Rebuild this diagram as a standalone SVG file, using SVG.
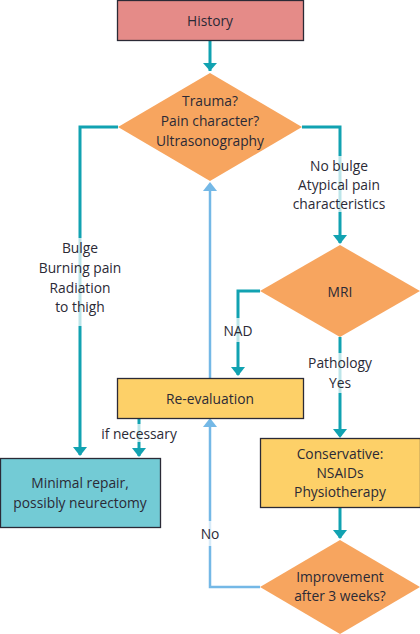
<svg xmlns="http://www.w3.org/2000/svg" width="420" height="634" viewBox="0 0 420 634">
<defs>
<style>
text{font-family:"Open Sans","Liberation Sans",sans-serif;font-size:13.8px;fill:#2b2a36;text-anchor:middle;dominant-baseline:central}
.box{stroke:#2b2a36;stroke-width:1.3}
.teal{fill:none;stroke:#11a2b1;stroke-width:3}
.lb{fill:none;stroke:#74b8e6;stroke-width:2.5}
.veil{fill:#fff;fill-opacity:0.72}
.ht{fill:#11a2b1}
.hb{fill:#74b8e6}
</style>
</defs>
<rect width="420" height="634" fill="#fff"/>
<g id="connectors">
<path class="teal" d="M210,40 V71"/>
<path class="ht" d="M203,63 L217,63 L210,71 Z"/>
<path class="teal" d="M118,127 H80 V455"/>
<path class="ht" d="M73,447 L87,447 L80,456 Z"/>
<path class="teal" d="M302,127 H340 V243"/>
<path class="ht" d="M333,235 L347,235 L340,244 Z"/>
<path class="teal" d="M260,291 H238 V375"/>
<path class="ht" d="M231,367 L245,367 L238,376 Z"/>
<path class="teal" d="M340,337 V436"/>
<path class="ht" d="M333,429 L347,429 L340,438 Z"/>
<path class="teal" d="M139,418 V456"/>
<path class="ht" d="M132,448 L146,448 L139,457 Z"/>
<path class="teal" d="M340,507 V538"/>
<path class="ht" d="M333,530 L347,530 L340,539 Z"/>
<path class="lb" d="M210,378 V188"/>
<path class="hb" d="M203,191 L217,191 L210,182 Z"/>
<path class="lb" d="M260,587 H210 V424"/>
<path class="hb" d="M203,427 L217,427 L210,418 Z"/>
<rect class="veil" x="76" y="238" width="8" height="88"/>
<rect class="veil" x="336" y="156" width="8" height="56"/>
<rect class="veil" x="234" y="318" width="8" height="24"/>
<rect class="veil" x="336" y="353" width="8" height="40"/>
<rect class="veil" x="135" y="424" width="8" height="18"/>
<rect class="veil" x="206" y="521" width="8" height="25"/>
</g>
<g id="history">
<rect class="box" x="117.5" y="0.5" width="186" height="40" fill="#e58b88"/>
<text x="210" y="20">History</text>
</g>
<g id="trauma">
<polygon points="210,73 302,127 210,181 118,127" fill="#f7a55f"/>
<text x="210" y="100">Trauma?</text>
<text x="210" y="120">Pain character?</text>
<text x="210" y="140">Ultrasonography</text>
</g>
<g id="mri">
<polygon points="340,245 420,291 340,337 260,291" fill="#f7a55f"/>
<text x="340" y="291">MRI</text>
</g>
<g id="reevaluation">
<rect class="box" x="117.5" y="378.5" width="186" height="40" fill="#fdd068"/>
<text x="210" y="398">Re-evaluation</text>
</g>
<g id="minimal">
<rect class="box" x="0.5" y="458.5" width="160" height="69" fill="#73cbd5"/>
<text x="80" y="482">Minimal repair,</text>
<text x="80" y="502">possibly neurectomy</text>
</g>
<g id="conservative">
<rect class="box" x="260.5" y="438.5" width="160" height="69" fill="#fdd068"/>
<text x="340" y="453">Conservative:</text>
<text x="340" y="472">NSAIDs</text>
<text x="340" y="491">Physiotherapy</text>
</g>
<g id="improvement">
<polygon points="340,540 420,587 340,634 260,587" fill="#f7a55f"/>
<text x="340" y="576">Improvement</text>
<text x="340" y="595">after 3 weeks?</text>
</g>
<g id="labels">
<text x="339" y="165">No bulge</text>
<text x="339" y="184">Atypical pain</text>
<text x="339" y="203">characteristics</text>
<text x="80" y="247">Bulge</text>
<text x="80" y="267">Burning pain</text>
<text x="80" y="287">Radiation</text>
<text x="80" y="306">to thigh</text>
<text x="238" y="330">NAD</text>
<text x="340" y="362">Pathology</text>
<text x="340" y="382">Yes</text>
<text x="139" y="433">if necessary</text>
<text x="210" y="533">No</text>
</g>
</svg>
